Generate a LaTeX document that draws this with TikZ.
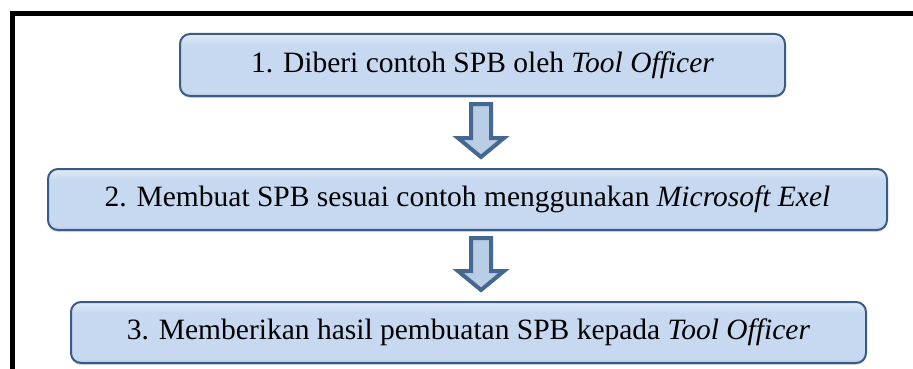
\documentclass[tikz,border=0pt]{standalone}
\usepackage{fontspec}
\newfontfamily\stepfont{Liberation Serif}
\usetikzlibrary{calc,shadows}

\definecolor{bxborder}{HTML}{3A5B85}
\definecolor{bxmid}{HTML}{C6D9F1}
\definecolor{bxtop}{HTML}{D6E3F4}
\definecolor{bxtoptwo}{HTML}{E4EDF8}
\definecolor{bxbot}{HTML}{A9BFDC}
\definecolor{arfill}{HTML}{B9CDE5}
\definecolor{arborder}{HTML}{456892}

% bevelled blue fill: light band at the top, darker rim at the bottom
\pgfdeclareverticalshading{boxshade}{100bp}{%
  color(0bp)=(bxbot); color(25bp)=(bxbot); color(28bp)=(bxmid);
  color(66bp)=(bxmid); color(72bp)=(bxtop); color(75bp)=(bxtoptwo);
  color(100bp)=(bxtoptwo)}

% hollow block arrow pointing down from one box to the next
\newcommand\flowarrow[2]{%
  \draw[blockarrow]
    let \p1=($(axis |- #1.south)+(0,-7)$),
        \p2=($(axis |- #2.north)+(0,11)$) in
    (\x1-10pt,\y1) -- (\x1+10pt,\y1) -- (\x1+10pt,\y2+19pt)
    -- (\x1+23pt,\y2+19pt) -- (\x1,\y2) -- (\x1-23pt,\y2+19pt)
    -- (\x1-10pt,\y2+19pt) -- cycle;}

\begin{document}
\begin{tikzpicture}[x=1pt,y=1pt,
  stepbox/.style={draw=bxborder, line width=2pt, rounded corners=10pt,
    shading=boxshade, inner sep=0pt, align=center,
    font=\stepfont\fontsize{29.5}{34}\selectfont,
    drop shadow={shadow xshift=0pt, shadow yshift=-2pt, opacity=0.25}},
  blockarrow/.style={draw=arborder, fill=arfill, line width=4pt,
    line join=miter}]
\useasboundingbox (0,0) rectangle (913,-369);
\clip (0,0) rectangle (913,-369);

% frame
\draw[line width=5pt, line join=miter] (12.5,-380) -- (12.5,-13.5) -- (930,-13.5);

% steps
\node[stepbox, minimum width=605pt, minimum height=62pt] (b1) at (482.5,-65)
  {1. Diberi contoh SPB oleh \textit{Tool Officer}};
\node[stepbox, minimum width=839pt, minimum height=61pt] (b2) at (467.5,-199.5)
  {2. Membuat SPB sesuai contoh menggunakan \textit{Microsoft Exel}};
\node[stepbox, minimum width=795pt, minimum height=61pt] (b3) at (468.5,-332.5)
  {3. Memberikan hasil pembuatan SPB kepada \textit{Tool Officer}};

% arrows
\coordinate (axis) at (481,0);
\flowarrow{b1}{b2}
\flowarrow{b2}{b3}
\end{tikzpicture}
\end{document}
